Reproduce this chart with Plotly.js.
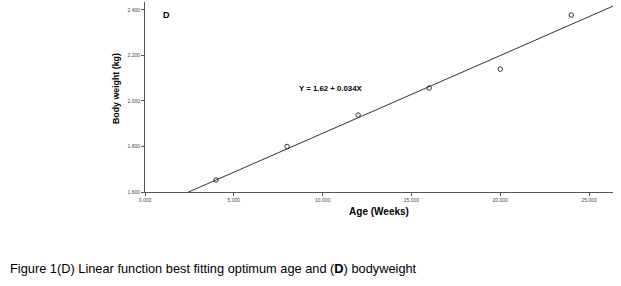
<!DOCTYPE html>
<html>
<head>
<meta charset="utf-8">
<script src="https://cdn.plot.ly/plotly-3.0.1.min.js"></script>
<style>html,body{margin:0;padding:0;background:#fff;}#chart{width:621px;height:286px;}</style>
</head>
<body>
<div id="chart"></div>
<script>
// Observed data (Age in weeks, body weight in kg)
var ageWeeks = [4, 8, 12, 16, 20, 24];
var bodyWeight = [1.653, 1.800, 1.938, 2.057, 2.140, 2.378];
// Fitted line endpoints as drawn in the reference
var fitX = [0, 27];
var fitY = [1.516, 2.439];
var xTicks = [0, 5, 10, 15, 20, 25];
var yTicks = [1.6, 1.8, 2.0, 2.2, 2.4];
var xTitle = 'Age (Weeks)';
var yTitle = 'Body weight (kg)';
var equationText = 'Y = 1.62 + 0.034X';
var panelLabel = 'D';
var captionText = 'Figure 1(D) Linear function best fitting optimum age and (<b>D</b>) bodyweight';

var traces = [
  {x: fitX, y: fitY, mode: 'lines', type: 'scatter',
   line: {color: '#333', width: 1}, hoverinfo: 'skip', showlegend: false},
  {x: ageWeeks, y: bodyWeight, mode: 'markers', type: 'scatter',
   marker: {symbol: 'circle-open', size: 4.5, color: '#333', line: {width: 1, color: '#333'}},
   showlegend: false}
];

var L = 145, R = 8, T = 2, B = 94, W = 621, H = 286;
var plotW = W - L - R, plotH = H - T - B;
function px(xp) { return (xp - L) / plotW; }
function py(yp) { return (H - B - yp) / plotH; }

var layout = {
  width: W, height: H,
  margin: {l: L, r: R, t: T, b: B},
  paper_bgcolor: '#fff', plot_bgcolor: '#fff',
  font: {family: 'Liberation Sans, Arial, sans-serif', color: '#000'},
  xaxis: {
    range: [0, 26.35], tickvals: xTicks, tickformat: '.3f',
    showgrid: false, zeroline: false, showline: true, linecolor: '#555', linewidth: 1,
    ticks: 'outside', ticklen: 3, tickcolor: '#555',
    tickfont: {size: 5, color: '#444'},
    title: {text: '<b>' + xTitle + '</b>', font: {size: 10, color: '#000'}, standoff: 5}
  },
  yaxis: {
    range: [1.6, 2.435], tickvals: yTicks, tickformat: '.3f',
    showgrid: false, zeroline: false, showline: true, linecolor: '#555', linewidth: 1,
    ticks: 'outside', ticklen: 3, tickcolor: '#555',
    tickfont: {size: 5, color: '#444'},
    title: {text: ''}
  },
  annotations: [
    {x: 1.2, y: 2.38, xref: 'x', yref: 'y', text: '<b>' + panelLabel + '</b>', showarrow: false,
     font: {size: 9, color: '#000'}},
    {x: 10.47, y: 2.057, xref: 'x', yref: 'y', text: '<b>' + equationText + '</b>', showarrow: false,
     font: {size: 7.8, color: '#000'}},
    {x: px(116), y: py(89), xref: 'paper', yref: 'paper', text: '<b>' + yTitle + '</b>', showarrow: false,
     textangle: -90, xanchor: 'center', yanchor: 'middle', font: {size: 8.8, color: '#000'}},
    {x: px(8), y: py(268), xref: 'paper', yref: 'paper', text: captionText, showarrow: false,
     xanchor: 'left', yanchor: 'middle', font: {size: 12.8, color: '#000'}}
  ]
};

Plotly.newPlot('chart', traces, layout, {displayModeBar: false, staticPlot: true});
</script>
</body>
</html>
